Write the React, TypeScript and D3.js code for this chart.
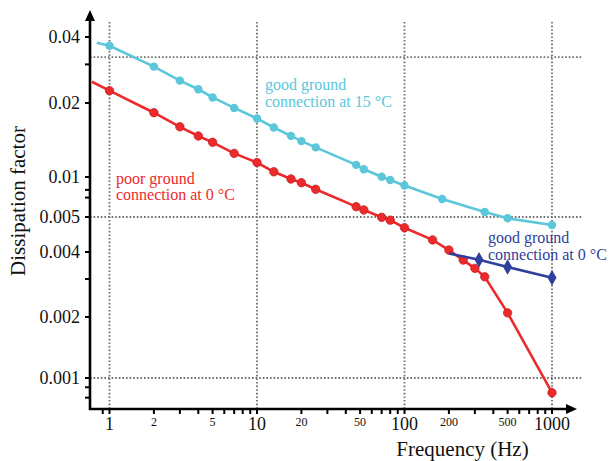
import React from 'react';
import * as d3 from 'd3';

// series (frequency in Hz, dissipation factor)
const freqCyan = [0.82, 1, 2, 3, 4, 5, 7, 10, 13, 17, 20, 25, 47, 53, 70, 80, 100, 180, 350, 500, 1000];
const dfCyan = [0.0377, 0.0365, 0.0293, 0.0253, 0.0231, 0.0212, 0.0191, 0.0173, 0.0159, 0.0147, 0.014, 0.0132, 0.0112, 0.01075, 0.01003, 0.0095, 0.00863, 0.00683, 0.00545, 0.00496, 0.00475];

const freqRed = [0.76, 1, 2, 3, 4, 5, 7, 10, 13, 17, 20, 25, 47, 53, 70, 80, 100, 155, 200, 250, 300, 350, 500, 1000];
const dfRed = [0.025, 0.02276, 0.01826, 0.016, 0.01468, 0.01384, 0.01248, 0.01145, 0.0105, 0.00966, 0.00906, 0.00808, 0.00598, 0.00565, 0.00499, 0.0049, 0.00467, 0.00432, 0.00405, 0.00367, 0.00336, 0.00307, 0.00209, 0.000846];

const freqNavy = [200, 320, 500, 1000];
const dfNavy = [0.00394, 0.00368, 0.00341, 0.00304];

const yMajor = [0.04, 0.02, 0.01, 0.005, 0.004, 0.002, 0.001];
const yMinor = [0.03, 0.008, 0.007, 0.003, 0.0009, 0.0008];
const xBigLabels = [1, 10, 100, 1000];
const xSmallLabels = [2, 5, 20, 50, 200, 500];
const xGrid = [1, 10, 100, 1000];
const yGrid = [0.0324, 0.005, 0.001];

const CYAN = '#5cc6da';
const RED = '#ec2a2c';
const NAVY = '#2f3f9c';
const GRID = '#6e6e6e';
const FONT = '"Liberation Serif", "Times New Roman", serif';

const W = 609;
const H = 461;
const axisX = 90;
const axisY = 409;

const App = () => {
  const x = d3.scaleLog().domain([1, 1000]).range([109.5, 552]);
  // the original figure's y axis is not evenly spaced, so it is calibrated piecewise
  const y = d3
    .scaleLog()
    .domain([0.0007, 0.001, 0.002, 0.004, 0.005, 0.01, 0.02, 0.04, 0.05])
    .range([409.4, 378, 317, 252, 217, 177, 103, 37, 15.8]);

  const line = d3
    .line<[number, number]>()
    .x((d) => x(d[0]))
    .y((d) => y(d[1]));

  const cyan = freqCyan.map((f, i) => [f, dfCyan[i]] as [number, number]);
  const red = freqRed.map((f, i) => [f, dfRed[i]] as [number, number]);
  const navy = freqNavy.map((f, i) => [f, dfNavy[i]] as [number, number]);

  const xTicks = [0.9, ...x.ticks()];
  const diamond = d3.symbol().type(d3.symbolDiamond).size(70)();

  return (
    <svg
      width={W}
      height={H}
      style={{ position: 'absolute', left: 0, top: 0, background: '#fff' }}
      fontFamily={FONT}
    >
      {/* grid */}
      <g stroke={GRID} strokeWidth={1.8} strokeDasharray="1.6 2">
        {xGrid.map((v) => (
          <line key={'gx' + v} x1={x(v)} x2={x(v)} y1={22} y2={axisY} />
        ))}
        {yGrid.map((v) => (
          <line key={'gy' + v} x1={axisX} x2={583} y1={y(v)} y2={y(v)} />
        ))}
      </g>

      {/* series */}
      <path d={line(cyan) ?? ''} fill="none" stroke={CYAN} strokeWidth={2.6} />
      {cyan.filter((d) => d[0] >= 1).map((d, i) => (
        <circle key={'c' + i} cx={x(d[0])} cy={y(d[1])} r={4.2} fill={CYAN} />
      ))}
      <path d={line(red) ?? ''} fill="none" stroke={RED} strokeWidth={2.6} />
      {red.filter((d) => d[0] >= 1).map((d, i) => (
        <circle key={'r' + i} cx={x(d[0])} cy={y(d[1])} r={4.2} fill={RED} stroke="#c81e22" strokeWidth={0.8} />
      ))}
      <path d={line(navy) ?? ''} fill="none" stroke={NAVY} strokeWidth={2.6} />
      {navy.slice(1).map((d, i) => (
        <path key={'n' + i} d={diamond ?? ''} transform={`translate(${x(d[0])},${y(d[1])})`} fill={NAVY} />
      ))}

      {/* axes */}
      <g stroke="#000">
        <line x1={axisX} x2={axisX} y1={18} y2={axisY + 1} strokeWidth={2.6} />
        <line x1={axisX - 1} x2={568} y1={axisY} y2={axisY} strokeWidth={2.6} />
        {[...yMajor, ...yMinor].map((v) => (
          <line key={'yt' + v} x1={axisX - 5} x2={axisX} y1={y(v)} y2={y(v)} strokeWidth={2} />
        ))}
        {xTicks.map((v) => (
          <line key={'xt' + v} x1={x(v)} x2={x(v)} y1={axisY} y2={axisY + 5} strokeWidth={2} />
        ))}
      </g>
      <polygon points={`${axisX},10 ${axisX - 5},21 ${axisX + 5},21`} fill="#000" />
      <polygon points={`577,${axisY} 566,${axisY - 5} 566,${axisY + 5}`} fill="#000" />

      {/* tick labels */}
      {yMajor.map((v) => (
        <text key={'yl' + v} x={80} y={y(v)} dy="0.35em" textAnchor="end" fontSize={18} fill="#111">
          {String(v)}
        </text>
      ))}
      {xBigLabels.map((v) => (
        <text key={'xb' + v} x={x(v)} y={430} textAnchor="middle" fontSize={18} fill="#111">
          {String(v)}
        </text>
      ))}
      {xSmallLabels.map((v) => (
        <text key={'xs' + v} x={x(v)} y={426} textAnchor="middle" fontSize={12} fill="#111">
          {String(v)}
        </text>
      ))}

      {/* axis titles */}
      <text x={x(100) + 58} y={456} textAnchor="middle" fontSize={21} fill="#111">
        Frequency (Hz)
      </text>
      <text transform="translate(25,201) rotate(-90)" textAnchor="middle" fontSize={21} fill="#111">
        Dissipation factor
      </text>

      {/* annotations */}
      <text x={265} y={90} fontSize={16} fill={CYAN}>
        <tspan x={265}>good ground</tspan>
        <tspan x={265} dy={17}>connection at 15 °C</tspan>
      </text>
      <text x={116} y={184} fontSize={16} fill={RED}>
        <tspan x={116}>poor ground</tspan>
        <tspan x={116} dy={16}>connection at 0 °C</tspan>
      </text>
      <text x={488} y={243} fontSize={16} fill={NAVY}>
        <tspan x={488}>good ground</tspan>
        <tspan x={488} dy={17}>connection at 0 °C</tspan>
      </text>
    </svg>
  );
};

export default App;
